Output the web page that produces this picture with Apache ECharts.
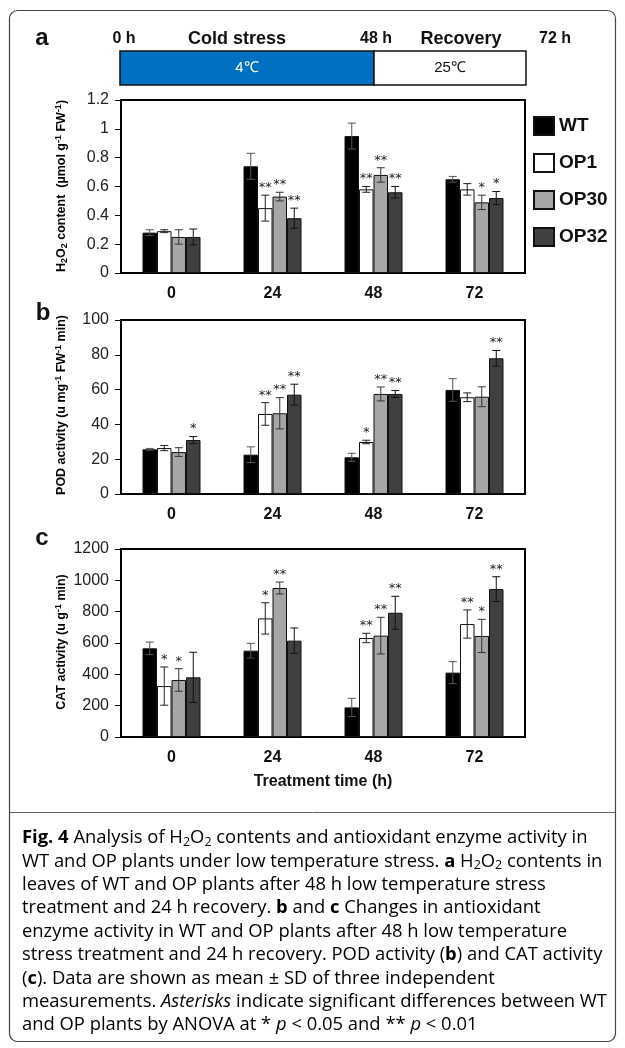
<!DOCTYPE html>
<html>
<head>
<meta charset="utf-8">
<script src="https://cdn.jsdelivr.net/npm/echarts@6/dist/echarts.min.js"></script>
<style>
html,body{margin:0;padding:0;background:#fff;}
#chart{width:625px;height:1048px;}
</style>
</head>
<body>
<div id="chart"></div>
<script>
// ---------- DATA ----------
const categories = ['0', '24', '48', '72'];
const seriesNames = ['WT', 'OP1', 'OP30', 'OP32'];

// Panel a: H2O2 content
const h2o2WT = [0.28, 0.74, 0.95, 0.65];
const h2o2OP1 = [0.29, 0.45, 0.58, 0.58];
const h2o2OP30 = [0.25, 0.53, 0.68, 0.49];
const h2o2OP32 = [0.25, 0.38, 0.56, 0.52];
const h2o2WTsd = [0.02, 0.09, 0.09, 0.02];
const h2o2OP1sd = [0.01, 0.09, 0.02, 0.04];
const h2o2OP30sd = [0.05, 0.03, 0.05, 0.05];
const h2o2OP32sd = [0.055, 0.07, 0.04, 0.045];
const h2o2WTsig = ['', '', '', ''];
const h2o2OP1sig = ['', '**', '**', ''];
const h2o2OP30sig = ['', '**', '**', '*'];
const h2o2OP32sig = ['', '**', '**', '*'];

// Panel b: POD activity
const podWT = [25.7, 22.6, 21.1, 59.8];
const podOP1 = [26.4, 46, 29.9, 55.6];
const podOP30 = [24.1, 46.4, 57.5, 55.9];
const podOP32 = [31, 57.1, 57.5, 78];
const podWTsd = [0.5, 4.5, 2.3, 6.5];
const podOP1sd = [1.5, 6.5, 1, 2.5];
const podOP30sd = [2.5, 9, 4, 5.7];
const podOP32sd = [2, 6, 2, 4.5];
const podWTsig = ['', '', '', ''];
const podOP1sig = ['', '**', '*', ''];
const podOP30sig = ['', '**', '**', ''];
const podOP32sig = ['*', '**', '**', '**'];

// Panel c: CAT activity
const catWT = [566, 551, 189, 411];
const catOP1 = [325, 757, 632, 721];
const catOP30 = [364, 951, 647, 645];
const catOP32 = [381, 615, 793, 944];
const catWTsd = [40, 47, 58, 70];
const catOP1sd = [122, 100, 30, 90];
const catOP30sd = [72, 38, 117, 106];
const catOP32sd = [160, 81, 105, 79];
const catWTsig = ['', '', '', ''];
const catOP1sig = ['*', '*', '**', '**'];
const catOP30sig = ['*', '**', '**', '*'];
const catOP32sig = ['', '', '**', '**'];

// Axis ranges / ticks
const yMaxA = 1.2, yIntA = 0.2;
const yMaxB = 100, yIntB = 20;
const yMaxC = 1200, yIntC = 200;

// ---------- STYLE ----------
const FONT = '"Liberation Sans", Arial, Helvetica, sans-serif';
const CAPFONT = '"Open Sans", "Noto Sans", sans-serif';
const barColors = ['#000000', '#ffffff', '#a6a6a6', '#404040'];
const errColors = ['#555555', '#222222', '#333333', '#111111'];
const BARW = 14.5;

const panels = [
  { vals: [h2o2WT, h2o2OP1, h2o2OP30, h2o2OP32], sds: [h2o2WTsd, h2o2OP1sd, h2o2OP30sd, h2o2OP32sd],
    sigs: [h2o2WTsig, h2o2OP1sig, h2o2OP30sig, h2o2OP32sig], max: yMaxA, interval: yIntA },
  { vals: [podWT, podOP1, podOP30, podOP32], sds: [podWTsd, podOP1sd, podOP30sd, podOP32sd],
    sigs: [podWTsig, podOP1sig, podOP30sig, podOP32sig], max: yMaxB, interval: yIntB },
  { vals: [catWT, catOP1, catOP30, catOP32], sds: [catWTsd, catOP1sd, catOP30sd, catOP32sd],
    sigs: [catWTsig, catOP1sig, catOP30sig, catOP32sig], max: yMaxC, interval: yIntC }
];

const grids = [
  { left: 121, top: 100, width: 404, height: 173 },
  { left: 121, top: 320, width: 404, height: 174 },
  { left: 121, top: 549, width: 404, height: 188 }
].map(g => Object.assign(g, { show: true, borderColor: '#000', borderWidth: 2, backgroundColor: 'transparent' }));

const xAxes = [], yAxes = [], series = [];
panels.forEach((p, gi) => {
  xAxes.push({
    type: 'category', gridIndex: gi, data: categories,
    axisLine: { show: true, lineStyle: { color: '#000', width: 2 } },
    axisTick: { show: false },
    axisLabel: { fontSize: 16, fontWeight: 'bold', color: '#111', margin: 13, fontFamily: FONT }
  });
  yAxes.push({
    type: 'value', gridIndex: gi, min: 0, max: p.max, interval: p.interval,
    axisLine: { show: true, lineStyle: { color: '#000', width: 2 } },
    axisTick: { show: true, length: 6, lineStyle: { color: '#000', width: 1 } },
    splitLine: { show: false },
    axisLabel: { fontSize: 16, color: '#222', margin: 12, fontFamily: FONT,
      formatter: v => String(+(+v).toFixed(2)) }
  });
  seriesNames.forEach((name, si) => {
    series.push({
      type: 'bar', name: name, xAxisIndex: gi, yAxisIndex: gi,
      data: p.vals[si], barWidth: BARW, barGap: '0%',
      itemStyle: { color: barColors[si], borderColor: '#111', borderWidth: 1 },
      emphasis: { disabled: true }, animation: false
    });
  });
  seriesNames.forEach((name, si) => {
    const sig = p.sigs[si];
    series.push({
      type: 'custom', name: name + '_err', xAxisIndex: gi, yAxisIndex: gi, z: 5,
      animation: false, silent: true,
      data: p.vals[si].map((v, i) => [i, v, p.sds[si][i]]),
      encode: { x: 0, y: 1 },
      renderItem: function (params, api) {
        const i = api.value(0), v = api.value(1), sd = api.value(2);
        const c = api.coord([i, v]);
        const top = api.coord([i, v + sd])[1];
        const bot = api.coord([i, Math.max(0, v - sd)])[1];
        const x = c[0] + (si - 1.5) * BARW;
        const cap = 4;
        const ls = { stroke: errColors[si], lineWidth: 1 };
        const children = [
          { type: 'line', shape: { x1: x, y1: top, x2: x, y2: bot }, style: ls },
          { type: 'line', shape: { x1: x - cap, y1: top, x2: x + cap, y2: top }, style: ls },
          { type: 'line', shape: { x1: x - cap, y1: bot, x2: x + cap, y2: bot }, style: ls }
        ];
        const s = sig[params.dataIndex];
        if (s) {
          children.push({
            type: 'text', x: x, y: top - 1,
            style: { text: s, font: '13px "DejaVu Sans", sans-serif', fill: '#222', align: 'center', verticalAlign: 'bottom' }
          });
        }
        return { type: 'group', children: children };
      }
    });
  });
});

// ---------- GRAPHICS (timeline, labels, caption) ----------
const graphics = [];
// outer frame
graphics.push({ type: 'rect', shape: { x: 9.5, y: 10.5, width: 606, height: 1031, r: 8 }, style: { fill: 'none', stroke: '#444', lineWidth: 1.2 }, z: 1 });
graphics.push({ type: 'line', shape: { x1: 9.5, y1: 812.5, x2: 615.5, y2: 812.5 }, style: { stroke: '#666', lineWidth: 1 } });

// panel letters
[['a', 42, 38], ['b', 43, 313], ['c', 42, 538]].forEach(t => {
  graphics.push({ type: 'text', x: t[1], y: t[2], style: { text: t[0], font: 'bold 24px ' + FONT, fill: '#111', align: 'center', verticalAlign: 'middle' } });
});

// timeline
graphics.push({ type: 'rect', shape: { x: 120, y: 51, width: 254, height: 34 }, style: { fill: '#0070c0', stroke: '#111', lineWidth: 1.5 } });
graphics.push({ type: 'rect', shape: { x: 374, y: 51, width: 152, height: 34 }, style: { fill: '#fff', stroke: '#111', lineWidth: 1.5 } });
graphics.push({ type: 'text', x: 247, y: 68, style: { text: '4℃', font: '15px ' + FONT, fill: '#fff', align: 'center', verticalAlign: 'middle' } });
graphics.push({ type: 'text', x: 450, y: 68, style: { text: '25℃', font: '15px ' + FONT, fill: '#111', align: 'center', verticalAlign: 'middle' } });
[['0 h', 124, 16], ['Cold stress', 237, 18], ['48 h', 376, 16], ['Recovery', 461, 18], ['72 h', 555, 16]].forEach(t => {
  graphics.push({ type: 'text', x: t[1], y: 39, style: { text: t[0], font: 'bold ' + t[2] + 'px ' + FONT, fill: '#111', align: 'center', verticalAlign: 'middle' } });
});

// y-axis names (rotated)
const axRich = {
  b: { fontSize: 12.5, fontWeight: 'bold', fontFamily: FONT, color: '#111', lineHeight: 15 },
  s: { fontSize: 9, fontWeight: 'bold', fontFamily: FONT, color: '#111', lineHeight: 9, verticalAlign: 'bottom' },
  u: { fontSize: 9, fontWeight: 'bold', fontFamily: FONT, color: '#111', lineHeight: 9, verticalAlign: 'top' }
};
[['{b|H}{s|2}{b|O}{s|2}{b| content  (µmol g}{u|-1}{b| FW}{u|-1}{b|)}', 186],
 ['{b|POD activity (u mg}{u|-1}{b| FW}{u|-1}{b| min)}', 405],
 ['{b|CAT activity (u g}{u|-1}{b| min)}', 642]].forEach(t => {
  graphics.push({ type: 'text', x: 62, y: t[1], rotation: Math.PI / 2,
    style: { text: t[0], rich: axRich, align: 'center', verticalAlign: 'middle' } });
});
graphics.push({ type: 'text', x: 323, y: 782, style: { text: 'Treatment time (h)', font: 'bold 16px ' + FONT, fill: '#111', align: 'center', verticalAlign: 'middle' } });

// caption
const CAPSZ = 18.4;
const capRich = {
  n: { fontSize: CAPSZ, fontFamily: CAPFONT, color: '#222', lineHeight: 22 },
  b: { fontSize: CAPSZ, fontFamily: CAPFONT, fontWeight: 'bold', color: '#111', lineHeight: 22 },
  i: { fontSize: CAPSZ, fontFamily: CAPFONT, fontStyle: 'italic', color: '#222', lineHeight: 22 },
  s: { fontSize: 12.5, fontFamily: CAPFONT, color: '#222', lineHeight: 12.5, verticalAlign: 'bottom' }
};
const captionLines = [
  '{b|Fig. 4}{n| Analysis of H}{s|2}{n|O}{s|2}{n| contents and antioxidant enzyme activity in}',
  '{n|WT and OP plants under low temperature stress. }{b|a}{n| H}{s|2}{n|O}{s|2}{n| contents in}',
  '{n|leaves of WT and OP plants after 48 h low temperature stress}',
  '{n|treatment and 24 h recovery. }{b|b}{n| and }{b|c}{n| Changes in antioxidant}',
  '{n|enzyme activity in WT and OP plants after 48 h low temperature}',
  '{n|stress treatment and 24 h recovery. POD activity (}{b|b}{n|) and CAT activity}',
  '{n|(}{b|c}{n|). Data are shown as mean ± SD of three independent}',
  '{n|measurements. }{i|Asterisks}{n| indicate significant differences between WT}',
  '{n|and OP plants by ANOVA at * }{i|p}{n| < 0.05 and ** }{i|p}{n| < 0.01}'
];
captionLines.forEach((t, k) => {
  graphics.push({ type: 'text', x: 22, y: 838 + k * 23.4,
    style: { text: t, rich: capRich, align: 'left', verticalAlign: 'middle' } });
});

const chart = echarts.init(document.getElementById('chart'), null, { renderer: 'canvas' });
chart.setOption({
  backgroundColor: '#ffffff',
  animation: false,
  textStyle: { fontFamily: FONT },
  grid: grids,
  xAxis: xAxes,
  yAxis: yAxes,
  legend: {
    data: seriesNames, orient: 'vertical', left: 533, top: 116, padding: 0,
    itemWidth: 20, itemHeight: 18, itemGap: 17, icon: 'rect',
    textStyle: { fontSize: 19, fontWeight: 'bold', color: '#111', fontFamily: FONT },
    selectedMode: false
  },
  series: series,
  graphic: graphics
});
</script>
</body>
</html>
